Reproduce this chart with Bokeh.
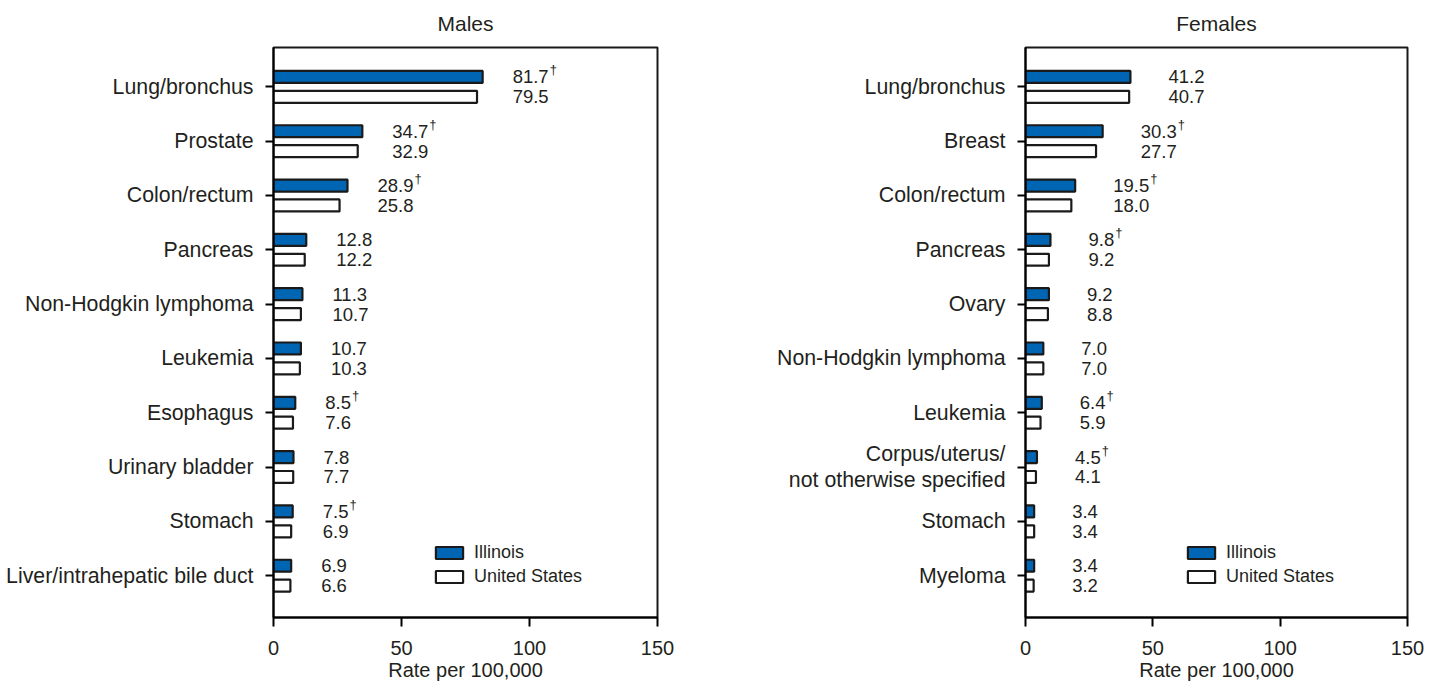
from bokeh.plotting import figure
from bokeh.models import Range1d, FixedTicker, Legend, LegendItem, ColumnDataSource
from bokeh.layouts import row
from bokeh.embed import file_html
from bokeh.resources import INLINE
from bokeh.core.properties import value

# ---------------- data ----------------
male_sites = ["Lung/bronchus", "Prostate", "Colon/rectum", "Pancreas",
              "Non-Hodgkin lymphoma", "Leukemia", "Esophagus",
              "Urinary bladder", "Stomach", "Liver/intrahepatic bile duct"]
male_illinois = [81.7, 34.7, 28.9, 12.8, 11.3, 10.7, 8.5, 7.8, 7.5, 6.9]
male_us = [79.5, 32.9, 25.8, 12.2, 10.7, 10.3, 7.6, 7.7, 6.9, 6.6]
male_sig = [True, True, True, False, False, False, True, False, True, False]

female_sites = ["Lung/bronchus", "Breast", "Colon/rectum", "Pancreas", "Ovary",
                "Non-Hodgkin lymphoma", "Leukemia",
                "Corpus/uterus/\nnot otherwise specified", "Stomach", "Myeloma"]
female_illinois = [41.2, 30.3, 19.5, 9.8, 9.2, 7.0, 6.4, 4.5, 3.4, 3.4]
female_us = [40.7, 27.7, 18.0, 9.2, 8.8, 7.0, 5.9, 4.1, 3.4, 3.2]
female_sig = [False, True, True, True, False, False, True, True, False, False]

x_ticks = [0, 50, 100, 150]
series_names = ["Illinois", "United States"]
axis_title = "Rate per 100,000"

# ---------------- style ----------------
FONT = "Liberation Sans"
TXT = "#231f20"
BLUE = "#0066b3"
VAL_SIZE = 18.5
HEIGHT = 683


def text_width(s, size):
    return sum(0.556 if c.isdigit() else 0.278 for c in s) * size


def panel(title, sites, il, us, sig, width, left_border, right_border, label_offset):
    n = len(sites)
    p = figure(width=width, height=HEIGHT,
               x_range=Range1d(0, 150), y_range=Range1d(n - 1 + 0.77, -0.725),
               output_backend="svg", toolbar_location=None,
               min_border_left=left_border, min_border_right=right_border,
               min_border_top=0, min_border_bottom=HEIGHT - 45 - 573)
    p.title.text = title
    p.title.align = "center"
    p.title.vertical_align = "top"
    p.title.text_font = FONT
    p.title.text_font_size = "21px"
    p.title.text_font_style = "normal"
    p.title.text_color = TXT
    p.title.standoff = 22

    p.grid.visible = False
    p.outline_line_color = "black"
    p.outline_line_width = 2
    p.outline_line_alpha = 0.9
    p.background_fill_color = "white"
    p.border_fill_color = "white"

    off = 0.183
    hgt = 0.22
    idx = list(range(n))
    src = ColumnDataSource(dict(
        y_il=[i - off for i in idx], y_us=[i + off for i in idx],
        il=il, us=us,
        xl=[max(a, b) for a, b in zip(il, us)],
        t_il=[f"{v:.1f}" for v in il], t_us=[f"{v:.1f}" for v in us],
    ))
    r_il = p.hbar(y="y_il", left=0, right="il", height=hgt, source=src,
                  fill_color=BLUE, line_color="#1a1a1a", line_width=2.2)
    r_us = p.hbar(y="y_us", left=0, right="us", height=hgt, source=src,
                  fill_color="white", line_color="#1a1a1a", line_width=2.2)

    for ycol, tcol in (("y_il", "t_il"), ("y_us", "t_us")):
        p.text(x="xl", y=ycol, text=tcol, source=src, x_offset=label_offset,
               text_align="left", text_baseline="middle",
               text_font=value(FONT), text_font_size=f"{VAL_SIZE}px", text_color=TXT)

    # dagger superscripts
    for i in idx:
        if sig[i]:
            xo = label_offset + text_width(f"{il[i]:.1f}", VAL_SIZE) + 1
            p.text(x=[max(il[i], us[i])], y=[i - off], text=["†"], x_offset=xo,
                   y_offset=-7, text_align="left", text_baseline="middle",
                   text_font=value(FONT), text_font_size="13px", text_color=TXT)

    # axes
    xa = p.xaxis[0]
    xa.ticker = FixedTicker(ticks=x_ticks)
    xa.axis_label = axis_title
    xa.axis_label_text_font = FONT
    xa.axis_label_text_font_size = "20px"
    xa.axis_label_text_font_style = "normal"
    xa.axis_label_text_color = TXT
    xa.axis_label_standoff = 1
    xa.major_label_text_font = FONT
    xa.major_label_text_font_size = "20px"
    xa.major_label_text_color = TXT
    xa.major_label_standoff = 14
    xa.major_tick_in = 0
    xa.major_tick_out = 9
    xa.minor_tick_out = 0
    xa.minor_tick_in = 0
    xa.axis_line_width = 2
    xa.major_tick_line_width = 2

    ya = p.yaxis[0]
    ya.ticker = FixedTicker(ticks=idx)
    ya.major_label_overrides = {i: s for i, s in zip(idx, sites)}
    ya.major_label_text_font = FONT
    ya.major_label_text_font_size = "21.3px"
    ya.major_label_text_color = TXT
    ya.major_label_text_line_height = 1.08
    ya.major_label_standoff = 12
    ya.major_tick_in = 0
    ya.major_tick_out = 8
    ya.minor_tick_out = 0
    ya.minor_tick_in = 0
    ya.axis_line_width = 2
    ya.major_tick_line_width = 2

    legend = Legend(items=[LegendItem(label=series_names[0], renderers=[r_il]),
                           LegendItem(label=series_names[1], renderers=[r_us])],
                    location=(159, 30), padding=0, margin=0, spacing=3,
                    glyph_width=34, glyph_height=15, label_height=20,
                    label_standoff=8, border_line_alpha=0,
                    background_fill_alpha=0,
                    label_text_font=FONT, label_text_font_size="18px",
                    label_text_color=TXT)
    p.add_layout(legend, "center")
    return p


p1 = panel("Males", male_sites, male_illinois, male_us, male_sig,
           width=700, left_border=273, right_border=43, label_offset=30)
p2 = panel("Females", female_sites, female_illinois, female_us, female_sig,
           width=728, left_border=325, right_border=21, label_offset=38)

layout = row(p1, p2)
open("out.html", "w").write(file_html(layout, INLINE))
